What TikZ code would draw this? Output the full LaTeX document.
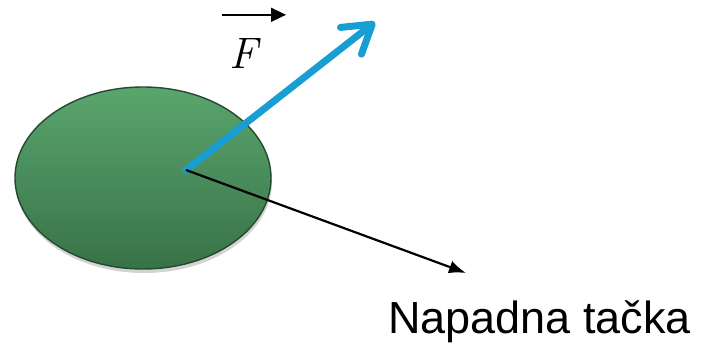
\documentclass[tikz,border=0pt]{standalone}
\usepackage{fontspec}
\setsansfont{Liberation Sans}
\usetikzlibrary{shapes.geometric,arrows.meta,shadows}
\usepackage{xcolor}
\definecolor{diskTop}{RGB}{90,165,110}
\definecolor{diskBottom}{RGB}{56,114,72}
\definecolor{diskEdge}{RGB}{36,74,46}
\definecolor{forceBlue}{RGB}{24,158,211}

\begin{document}
\begin{tikzpicture}[
  x=1pt, y=-1pt,
  disk/.style={ellipse, draw=diskEdge, line width=1.4pt,
    top color=diskTop, bottom color=diskBottom,
    minimum width=256pt, minimum height=182pt, inner sep=0pt,
    drop shadow={opacity=0.35, shadow xshift=1pt, shadow yshift=-4pt}},
  force/.style={forceBlue, line width=7pt, line cap=round,
    -{Straight Barb[length=27pt,width=34pt,line cap=round,line join=round]}},
  lever/.style={black, line width=2.2pt, -{Latex[length=17pt,width=13pt]}},
  vecbar/.style={black, line width=1.6pt, -{Triangle[length=15pt,width=14pt]}},
  label/.style={font=\sffamily\fontsize{45}{54}\selectfont, inner sep=0pt}
]
\useasboundingbox (0,0) rectangle (702,343);

\node[disk] (disk) at (143,178) {};
\coordinate (hit) at (186,170);
\coordinate (forceEnd) at (375,22);
\coordinate (pointEnd) at (466,273);

\node[inner sep=0pt, font=\itshape\fontsize{44}{44}\selectfont] (fLabel) at (244,54) {F};
\node[label, anchor=base west] (hitLabel) at (388,333) {Napadna tačka};

% force and its point of application
\draw[force] (hit) -- (forceEnd);
\draw[lever] (hit) -- (pointEnd);
\draw[vecbar] ([shift={(-22,-24)}]fLabel.north) -- ++(64,0);
\end{tikzpicture}
\end{document}
